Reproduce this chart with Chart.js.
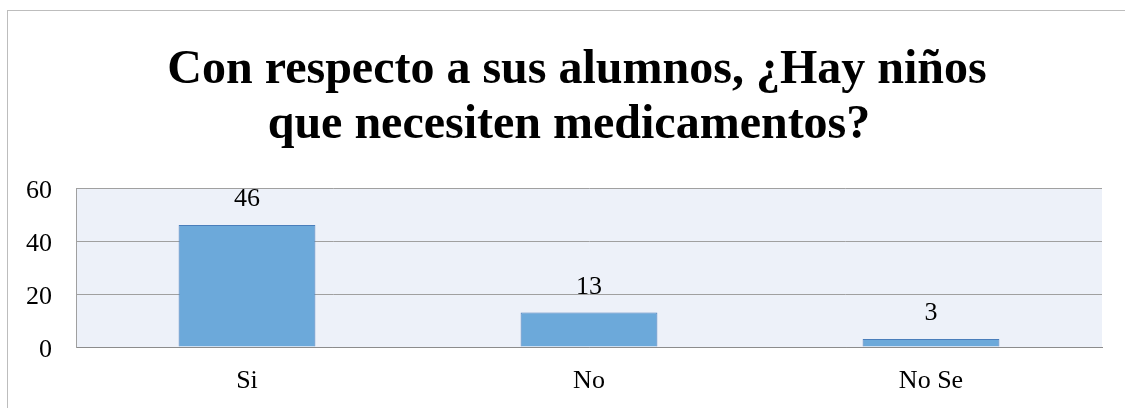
<!DOCTYPE html>
<html>
<head>
<meta charset="utf-8">
<script src="https://cdn.jsdelivr.net/npm/chart.js@4"></script>
<style>
  html, body { margin: 0; padding: 0; background: #fff; }
  #wrap { position: relative; width: 1125px; height: 408px; overflow: hidden; }
  #frame { position: absolute; left: 7px; top: 10px; width: 1200px; height: 500px;
           border-left: 1px solid #BDBDBD; border-top: 1px solid #BDBDBD; }
  canvas { position: absolute; left: 0; top: 0; }
</style>
</head>
<body>
<div id="wrap">
  <div id="frame"></div>
  <canvas id="chart" width="1125" height="408"></canvas>
</div>
<script>
const categories = ['Si', 'No', 'No Se'];
const values = [46, 13, 3];
const yTicks = [0, 20, 40, 60];
const titleLines = ['Con respecto a sus alumnos, ¿Hay niños', 'que necesiten medicamentos?'];

const serif = "'Liberation Serif', 'Times New Roman', serif";

// fondo del area de trazado
const plotBg = {
  id: 'plotBg',
  beforeDraw(chart) {
    const a = chart.chartArea;
    const ctx = chart.ctx;
    ctx.save();
    ctx.fillStyle = '#EDF1F9';
    ctx.fillRect(a.left, a.top, a.right - a.left, a.bottom - a.top);
    ctx.restore();
  }
};

// titulo en dos lineas, como en el original
const titleText = {
  id: 'titleText',
  afterDraw(chart) {
    const ctx = chart.ctx;
    const centers = [577, 569];
    const baselines = [83, 138];
    ctx.save();
    ctx.font = 'bold 48px ' + serif;
    ctx.fillStyle = '#000';
    ctx.textAlign = 'center';
    ctx.textBaseline = 'alphabetic';
    titleLines.forEach((line, i) => ctx.fillText(line, centers[i], baselines[i]));
    ctx.restore();
  }
};

// etiquetas de valores encima de las barras
const valueLabels = {
  id: 'valueLabels',
  afterDatasetsDraw(chart) {
    const ctx = chart.ctx;
    const meta = chart.getDatasetMeta(0);
    ctx.save();
    ctx.font = '26px ' + serif;
    ctx.fillStyle = '#000';
    ctx.textAlign = 'center';
    ctx.textBaseline = 'alphabetic';
    meta.data.forEach((bar, i) => {
      ctx.fillText(values[i], bar.x, bar.y - 19);
    });
    ctx.restore();
  }
};

const ctx = document.getElementById('chart').getContext('2d');
const chart = new Chart(ctx, {
  type: 'bar',
  data: {
    labels: categories,
    datasets: [{
      data: values,
      backgroundColor: '#6CA9DA',
      borderColor: '#4A7EBB',
      borderWidth: 1,
      barPercentage: 0.4,
      categoryPercentage: 1
    }]
  },
  options: {
    responsive: false,
    animation: false,
    layout: { padding: { top: 188, right: 23, bottom: 0, left: 0 } },
    plugins: {
      legend: { display: false },
      tooltip: { enabled: false },
      title: { display: false }
    },
    scales: {
      x: {
        grid: { display: false, drawTicks: false },
        border: { display: true, color: '#8C8C8C', width: 1 },
        ticks: { color: '#000', font: { family: serif, size: 26 }, padding: 19 },
        afterFit: (scale) => { scale.height = 61; }
      },
      y: {
        min: 0,
        max: 60,
        afterBuildTicks: (scale) => { scale.ticks = yTicks.map(v => ({ value: v })); },
        grid: { color: '#A0A0A0', drawTicks: false },
        border: { display: true, color: '#A0A0A0' },
        ticks: { color: '#000', font: { family: serif, size: 26 }, padding: 24, labelOffset: 3 },
        afterFit: (scale) => { scale.width = 76; }
      }
    }
  },
  plugins: [plotBg, valueLabels, titleText]
});
</script>
</body>
</html>
